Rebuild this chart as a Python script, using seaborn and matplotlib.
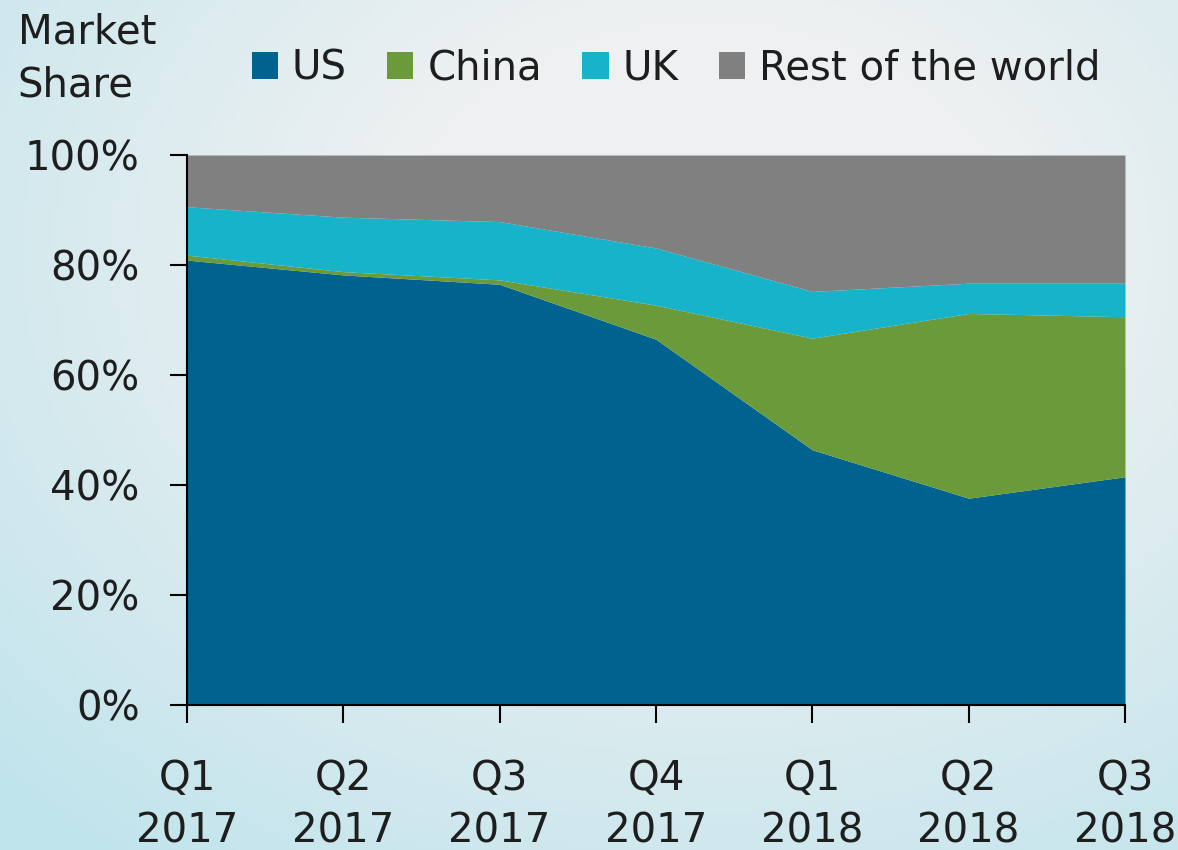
import numpy as np
import matplotlib.pyplot as plt
import seaborn as sns

# -----------------------------
# Data (market share, %)
# -----------------------------
quarters = ["Q1\n2017", "Q2\n2017", "Q3\n2017", "Q4\n2017", "Q1\n2018", "Q2\n2018", "Q3\n2018"]
us = [80.9, 78.2, 76.5, 66.5, 46.4, 37.6, 41.5]
china = [0.9, 0.6, 0.8, 6.2, 20.3, 33.6, 29.1]
uk = [8.8, 9.9, 10.6, 10.4, 8.5, 5.5, 6.1]
rest = [100 - a - b - c for a, b, c in zip(us, china, uk)]

series_names = ["US", "China", "UK", "Rest of the world"]
colors = ["#00628f", "#6b9a3a", "#16b3c9", "#808080"]

# -----------------------------
# Style
# -----------------------------
sns.set_theme(style="white")
plt.rcParams["font.family"] = ["DejaVu Sans"]
fs = 29
txt_color = "#1e1e1e"

fig = plt.figure(figsize=(11.78, 8.5), dpi=100)

# soft slide-like background (white centre, pale cyan edges)
bg = fig.add_axes([0, 0, 1, 1], zorder=-10)
yy, xx = np.mgrid[0:1:200j, 0:1:200j]
dist = np.sqrt(((xx - 0.6) / 0.85) ** 2 + ((yy - 0.3) / 0.9) ** 2)
bg.imshow(np.clip(dist, 0, 1), cmap=sns.light_palette("#c0e4ec", as_cmap=True),
          extent=[0, 1, 0, 1], aspect="auto", vmin=0.3, vmax=1.0)
bg.axis("off")

ax = fig.add_axes([0.1587, 0.1706, 0.7963, 0.647])
ax.patch.set_alpha(0)
x = np.arange(len(quarters))
ax.stackplot(x, us, china, uk, rest, colors=colors, labels=series_names, linewidth=0)

ax.set_xlim(0, len(quarters) - 1)
ax.set_ylim(0, 100)
ax.set_yticks([0, 20, 40, 60, 80, 100])
ax.set_yticklabels([f"{v}%" for v in [0, 20, 40, 60, 80, 100]])
ax.set_xticks(x)
ax.set_xticklabels(quarters, linespacing=1.4)

sns.despine(ax=ax)
for s in ["left", "bottom"]:
    ax.spines[s].set_color("black")
    ax.spines[s].set_linewidth(1.5)
ax.tick_params(axis="y", left=True, direction="out", length=12, width=1.5, color="black",
               labelsize=fs, pad=22, labelcolor=txt_color)
ax.tick_params(axis="x", bottom=True, direction="out", length=13, width=1.5, color="black",
               labelsize=fs, pad=26, labelcolor=txt_color)

fig.text(0.015, 0.985, "Market\nShare", fontsize=fs, va="top", ha="left",
         color=txt_color, linespacing=1.4)

handles, labels = ax.get_legend_handles_labels()
fig.legend(handles, labels, loc="center", bbox_to_anchor=(0.574, 0.919), ncol=4,
           frameon=False, fontsize=fs, handlelength=0.65, handleheight=0.65,
           handletextpad=0.35, columnspacing=1.0, labelcolor=txt_color)

plt.savefig("out.png", dpi=100)
